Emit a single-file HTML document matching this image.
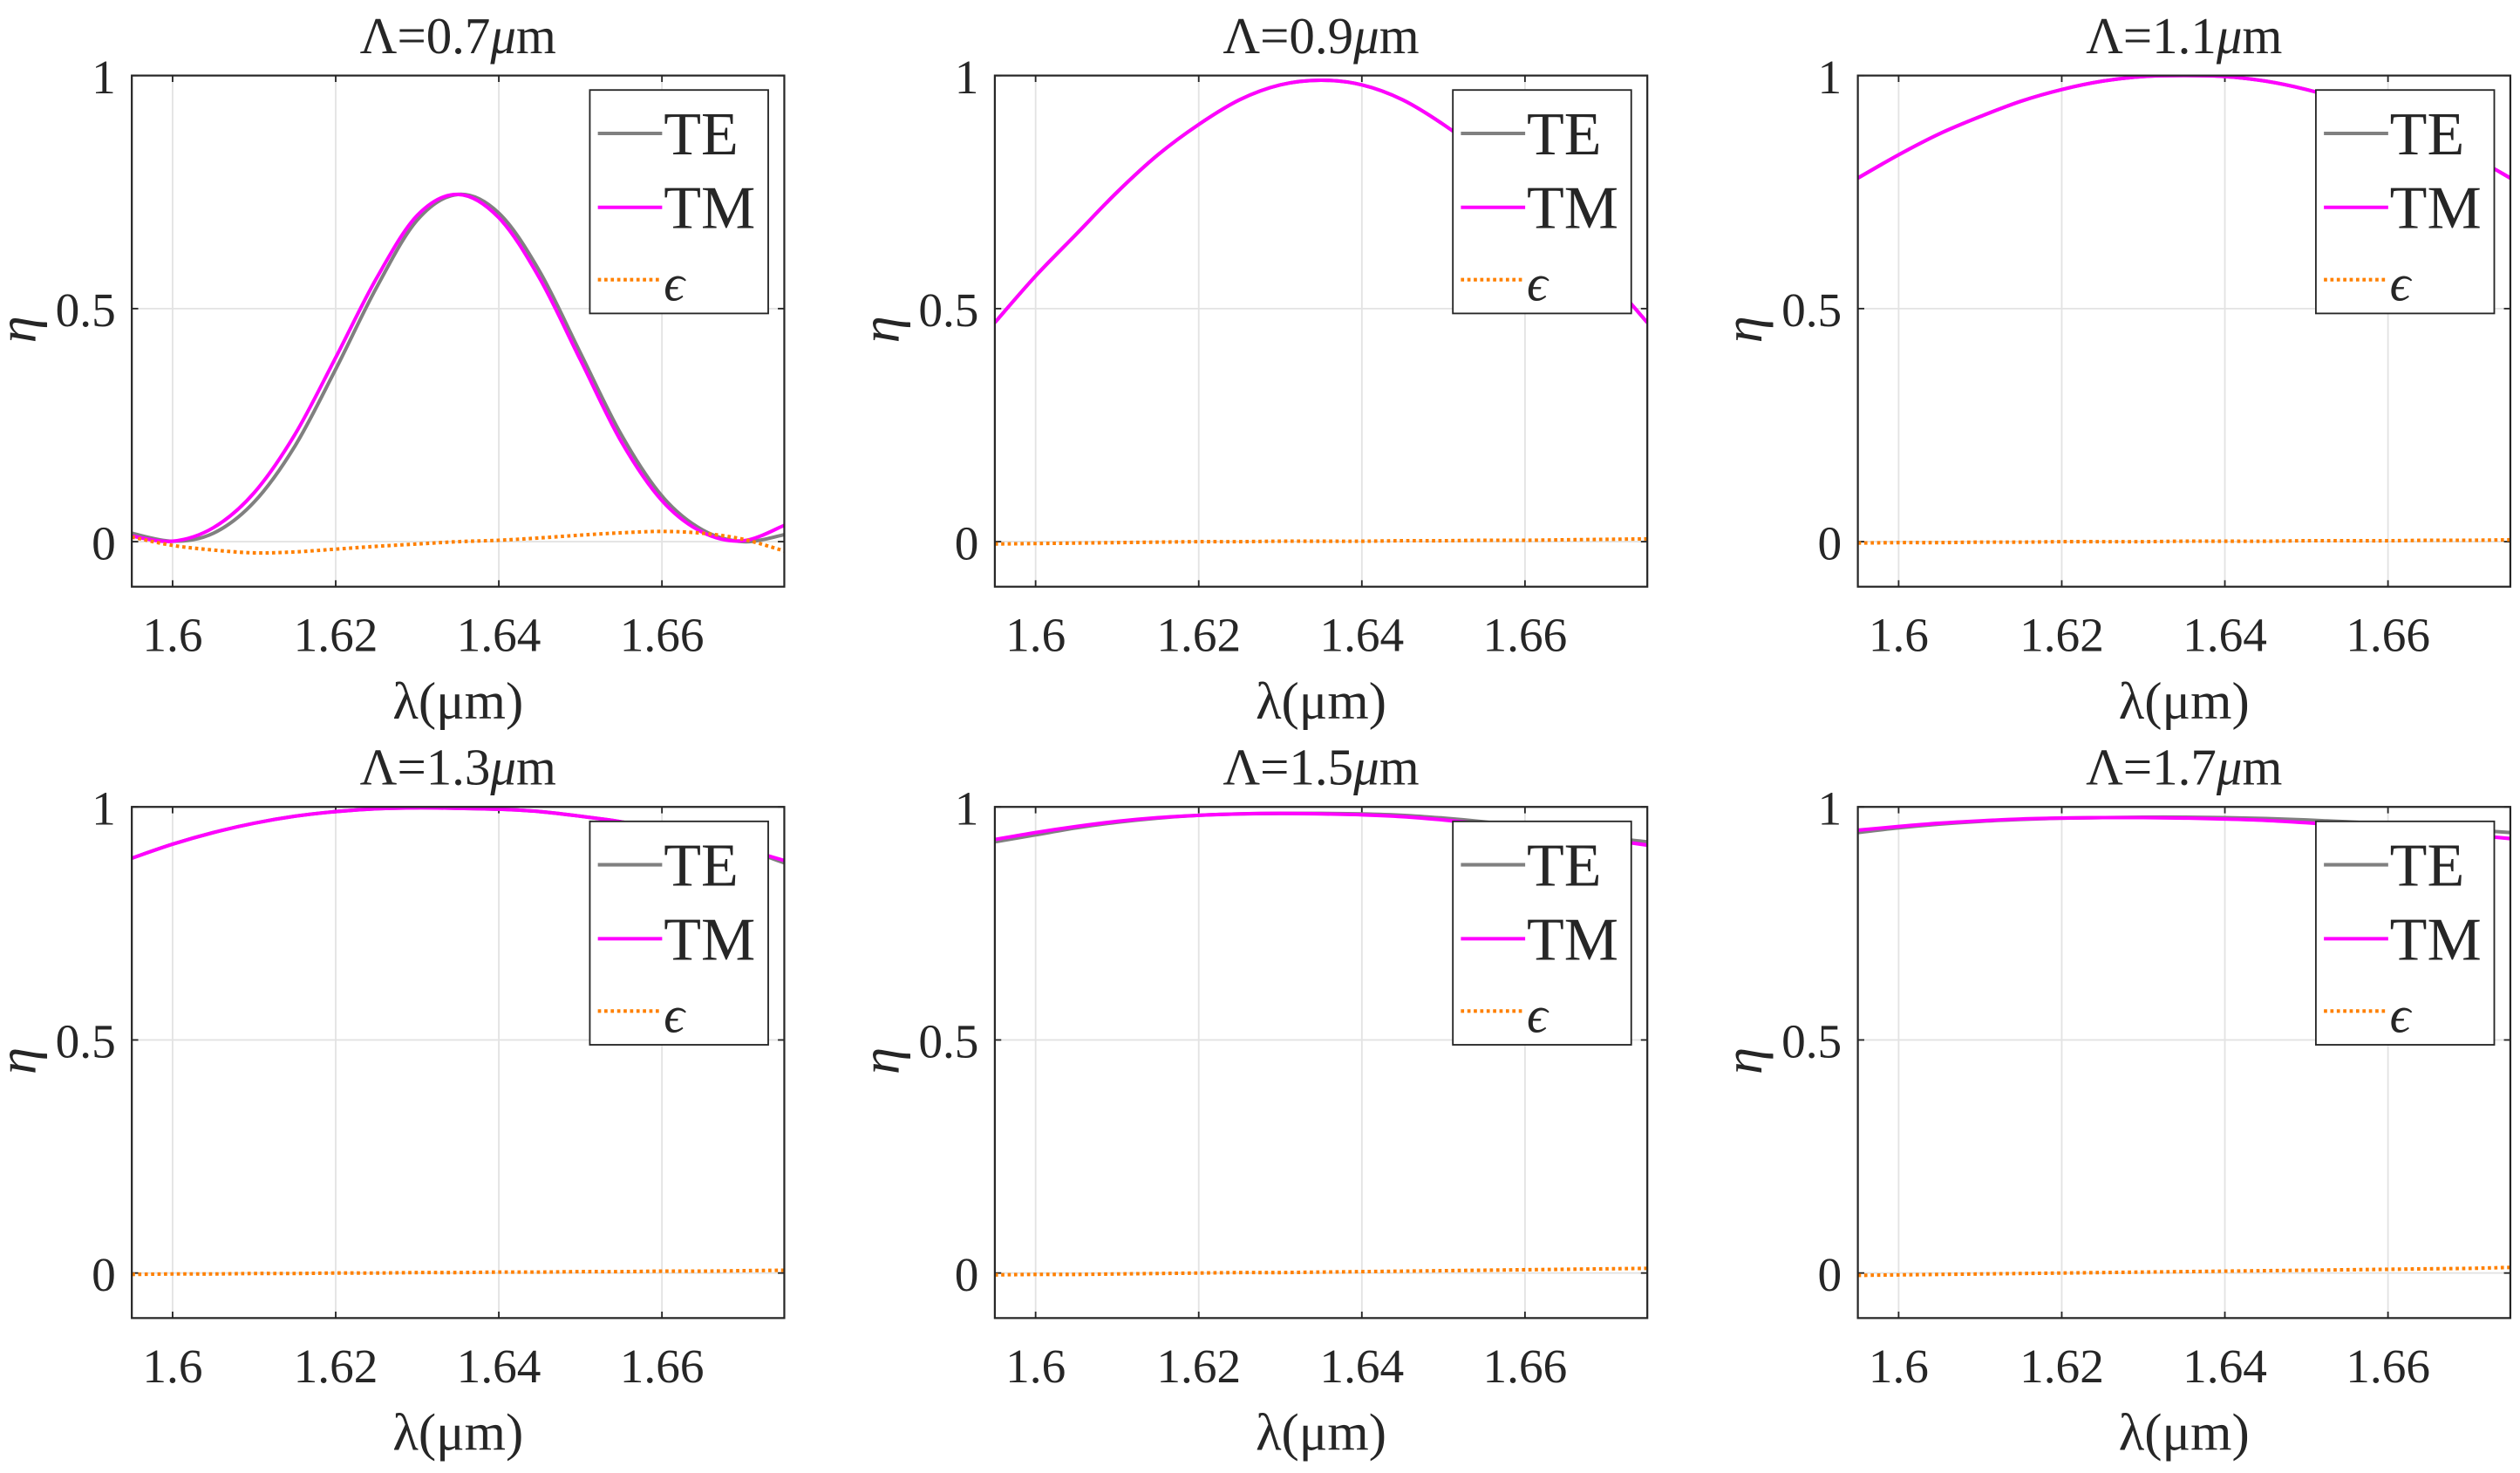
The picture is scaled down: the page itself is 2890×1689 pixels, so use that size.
<!DOCTYPE html>
<html><head><meta charset="utf-8"><style>
html,body{margin:0;padding:0;background:#fff;}
svg{display:block;}
text{font-family:"Liberation Serif",serif;fill:#262626;}
</style></head><body>
<svg id="fig" width="2890" height="1689" viewBox="0 0 1568 916.4" xmlns="http://www.w3.org/2000/svg"></svg>
<script>
const lambdas = [1.595,1.600,1.605,1.610,1.615,1.620,1.625,1.630,1.635,1.640,1.645,1.650,1.655,1.660,1.665,1.670,1.675];
const panelTitles = ["Λ=0.7","Λ=0.9","Λ=1.1","Λ=1.3","Λ=1.5","Λ=1.7"];
const xTicks = [1.6,1.62,1.64,1.66];
const xTickLabels = ["1.6","1.62","1.64","1.66"];
const yTicks = [0,0.5,1];
const yTickLabels = ["0","0.5","1"];
const te07 = [0.018,0.001,0.018,0.085,0.205,0.370,0.545,0.690,0.745,0.705,0.580,0.405,0.230,0.098,0.025,0.000,0.015];
const tm07 = [0.012,0.001,0.030,0.105,0.230,0.395,0.565,0.700,0.745,0.695,0.565,0.390,0.215,0.088,0.020,0.002,0.035];
const eps07 = [0.010,-0.008,-0.018,-0.024,-0.022,-0.016,-0.010,-0.005,0.000,0.003,0.008,0.014,0.019,0.022,0.018,0.005,-0.020];
const te09 = [0.47,0.57,0.66,0.75,0.83,0.895,0.948,0.980,0.990,0.980,0.948,0.895,0.830,0.750,0.660,0.570,0.47];
const tm09 = [0.47,0.57,0.66,0.75,0.83,0.895,0.948,0.980,0.990,0.980,0.948,0.895,0.830,0.750,0.660,0.570,0.47];
const eps09 = [-0.005,-0.004,-0.003,-0.002,-0.001,0.000,0.000,0.001,0.001,0.001,0.002,0.002,0.003,0.003,0.004,0.005,0.006];
const te11 = [0.78,0.83,0.875,0.912,0.945,0.970,0.988,0.998,1.000,0.998,0.988,0.970,0.945,0.912,0.875,0.830,0.78];
const tm11 = [0.78,0.83,0.875,0.912,0.945,0.970,0.988,0.998,1.000,0.998,0.988,0.970,0.945,0.912,0.875,0.830,0.78];
const eps11 = [-0.003,-0.002,-0.002,-0.001,-0.001,0.000,0.000,0.000,0.001,0.001,0.001,0.002,0.002,0.002,0.003,0.003,0.004];
const te13 = [0.89,0.92,0.945,0.965,0.980,0.990,0.996,0.998,0.997,0.995,0.990,0.980,0.968,0.952,0.932,0.910,0.88];
const tm13 = [0.89,0.92,0.945,0.965,0.980,0.990,0.996,0.998,0.997,0.995,0.990,0.980,0.968,0.952,0.932,0.910,0.885];
const eps13 = [-0.003,-0.002,-0.002,-0.001,-0.001,0.000,0.000,0.001,0.001,0.002,0.002,0.003,0.003,0.004,0.004,0.005,0.006];
const te15 = [0.925,0.940,0.955,0.967,0.976,0.982,0.985,0.986,0.986,0.985,0.982,0.976,0.968,0.958,0.947,0.935,0.925];
const tm15 = [0.930,0.945,0.958,0.969,0.977,0.982,0.985,0.986,0.985,0.983,0.979,0.972,0.963,0.952,0.941,0.930,0.918];
const eps15 = [-0.004,-0.003,-0.003,-0.002,-0.001,0.000,0.001,0.001,0.002,0.003,0.004,0.005,0.006,0.007,0.008,0.009,0.010];
const te17 = [0.945,0.955,0.963,0.969,0.973,0.976,0.977,0.978,0.978,0.977,0.975,0.972,0.968,0.963,0.957,0.951,0.945];
const tm17 = [0.950,0.958,0.965,0.970,0.974,0.976,0.977,0.977,0.976,0.974,0.971,0.966,0.960,0.954,0.947,0.940,0.932];
const eps17 = [-0.005,-0.004,-0.003,-0.002,-0.001,0.000,0.001,0.002,0.003,0.004,0.005,0.006,0.007,0.008,0.009,0.010,0.012];
const teSeries = [te07,te09,te11,te13,te15,te17];
const tmSeries = [tm07,tm09,tm11,tm13,tm15,tm17];
const epsSeries = [eps07,eps09,eps11,eps13,eps15,eps17];

const NS="http://www.w3.org/2000/svg";
const svg=document.getElementById('fig');
function mk(tag,attrs,parent){const e=document.createElementNS(NS,tag);for(const k in attrs)e.setAttribute(k,attrs[k]);(parent||svg).appendChild(e);return e;}
const XMIN=1.595,XMAX=1.675,YMIN=-0.0966,YMAX=1.0;
const colLefts=[82,619,1156], W=406, rowTops=[47,502], H=318;
function smooth(pts){let d="M"+pts[0][0].toFixed(2)+","+pts[0][1].toFixed(2);
 for(let i=0;i<pts.length-1;i++){const p0=pts[Math.max(0,i-1)],p1=pts[i],p2=pts[i+1],p3=pts[Math.min(pts.length-1,i+2)];
 const c1=[p1[0]+(p2[0]-p0[0])/6,p1[1]+(p2[1]-p0[1])/6],c2=[p2[0]-(p3[0]-p1[0])/6,p2[1]-(p3[1]-p1[1])/6];
 d+=" C"+c1[0].toFixed(2)+","+c1[1].toFixed(2)+" "+c2[0].toFixed(2)+","+c2[1].toFixed(2)+" "+p2[0].toFixed(2)+","+p2[1].toFixed(2);}
 return d;}
for(let p=0;p<6;p++){
 const L=colLefts[p%3],T=rowTops[Math.floor(p/3)];
 const sx=v=>L+(v-XMIN)/(XMAX-XMIN)*W, sy=v=>T+(YMAX-v)/(YMAX-YMIN)*H;
 const g=mk('g',{});
 
 
 mk('rect',{x:L,y:T,width:W,height:H,fill:'#fff'},g);
 const cp=mk('clipPath',{id:'c'+p},g);mk('rect',{x:L,y:T,width:W,height:H},cp);
 xTicks.forEach((t,i)=>{const x=sx(t);
  const gl=mk('line',{x1:x,x2:x,y1:T,y2:T+H,stroke:'#e3e3e3','stroke-width':1},g);
  
  mk('line',{x1:x,x2:x,y1:T+H,y2:T+H-4,stroke:'#262626','stroke-width':1},g);
  mk('line',{x1:x,x2:x,y1:T,y2:T+4,stroke:'#262626','stroke-width':1},g);
  const tl=mk('text',{x:x,y:T+H+40,'font-size':30,'text-anchor':'middle'},g);tl.textContent=xTickLabels[i];
  });
 yTicks.forEach((t,i)=>{const y=sy(t);
  const gl=mk('line',{x1:L,x2:L+W,y1:y,y2:y,stroke:'#e3e3e3','stroke-width':1},g);
  
  mk('line',{x1:L,x2:L+4,y1:y,y2:y,stroke:'#262626','stroke-width':1},g);
  mk('line',{x1:L+W,x2:L+W-4,y1:y,y2:y,stroke:'#262626','stroke-width':1},g);
  const tl=mk('text',{x:L-10,y:y+11,'font-size':30,'text-anchor':'end'},g);tl.textContent=yTickLabels[i];
  });
 const lines=[[teSeries[p],'#808080',2.2,null,'te-line'],[tmSeries[p],'#ff00ff',2.2,null,'tm-line'],[epsSeries[p],'#ff8000',2.2,'2,2','epsilon-line']];
 lines.forEach(s=>{const pts=lambdas.map((l,i)=>[sx(l),sy(s[0][i])]);
  const a={d:smooth(pts),fill:'none',stroke:s[1],'stroke-width':s[2],'clip-path':'url(#c'+p+')'};if(s[3])a['stroke-dasharray']=s[3];
  const e=mk('path',a,g);});
 mk('rect',{x:L,y:T,width:W,height:H,fill:'none',stroke:'#262626','stroke-width':1.2},g);
 const tt=mk('text',{x:L+W/2,y:T-14,'font-size':32,'text-anchor':'middle'},g);
 
 tt.textContent=panelTitles[p];const ts=mk('tspan',{'font-style':'italic'},tt);ts.textContent='μ';const ts2=mk('tspan',{},tt);ts2.textContent='m';
 const xl=mk('text',{x:L+W/2,y:T+H+82,'font-size':33,'text-anchor':'middle'},g);xl.textContent='λ(μm)';
 
 const yl=mk('text',{x:0,y:0,'font-size':34,'font-style':'italic','text-anchor':'middle',transform:'translate('+(L-60)+','+(T+158)+') rotate(-90)'},g);yl.textContent='η';
 
 const lx=L+W-121,ly=T+9;
 const lg=mk('g',{},g);
 
 
 mk('rect',{x:lx,y:ly,width:111,height:139,fill:'#fff',stroke:'#262626','stroke-width':1},lg);
 [['TE','#808080',null,27],['TM','#ff00ff',null,73],['ϵ','#ff8000','2,2',118]].forEach(e=>{
  const la={x1:lx+5,x2:lx+45,y1:ly+e[3],y2:ly+e[3],stroke:e[1],'stroke-width':2.2};if(e[2])la['stroke-dasharray']=e[2];
  mk('line',la,lg);
  const t=mk('text',{x:lx+46,y:ly+e[3]+13,'font-size':e[0]==='ϵ'?32:38,'font-style':e[0]==='ϵ'?'italic':'normal'},lg);t.textContent=e[0];
  });
}
</script>
</body></html>
